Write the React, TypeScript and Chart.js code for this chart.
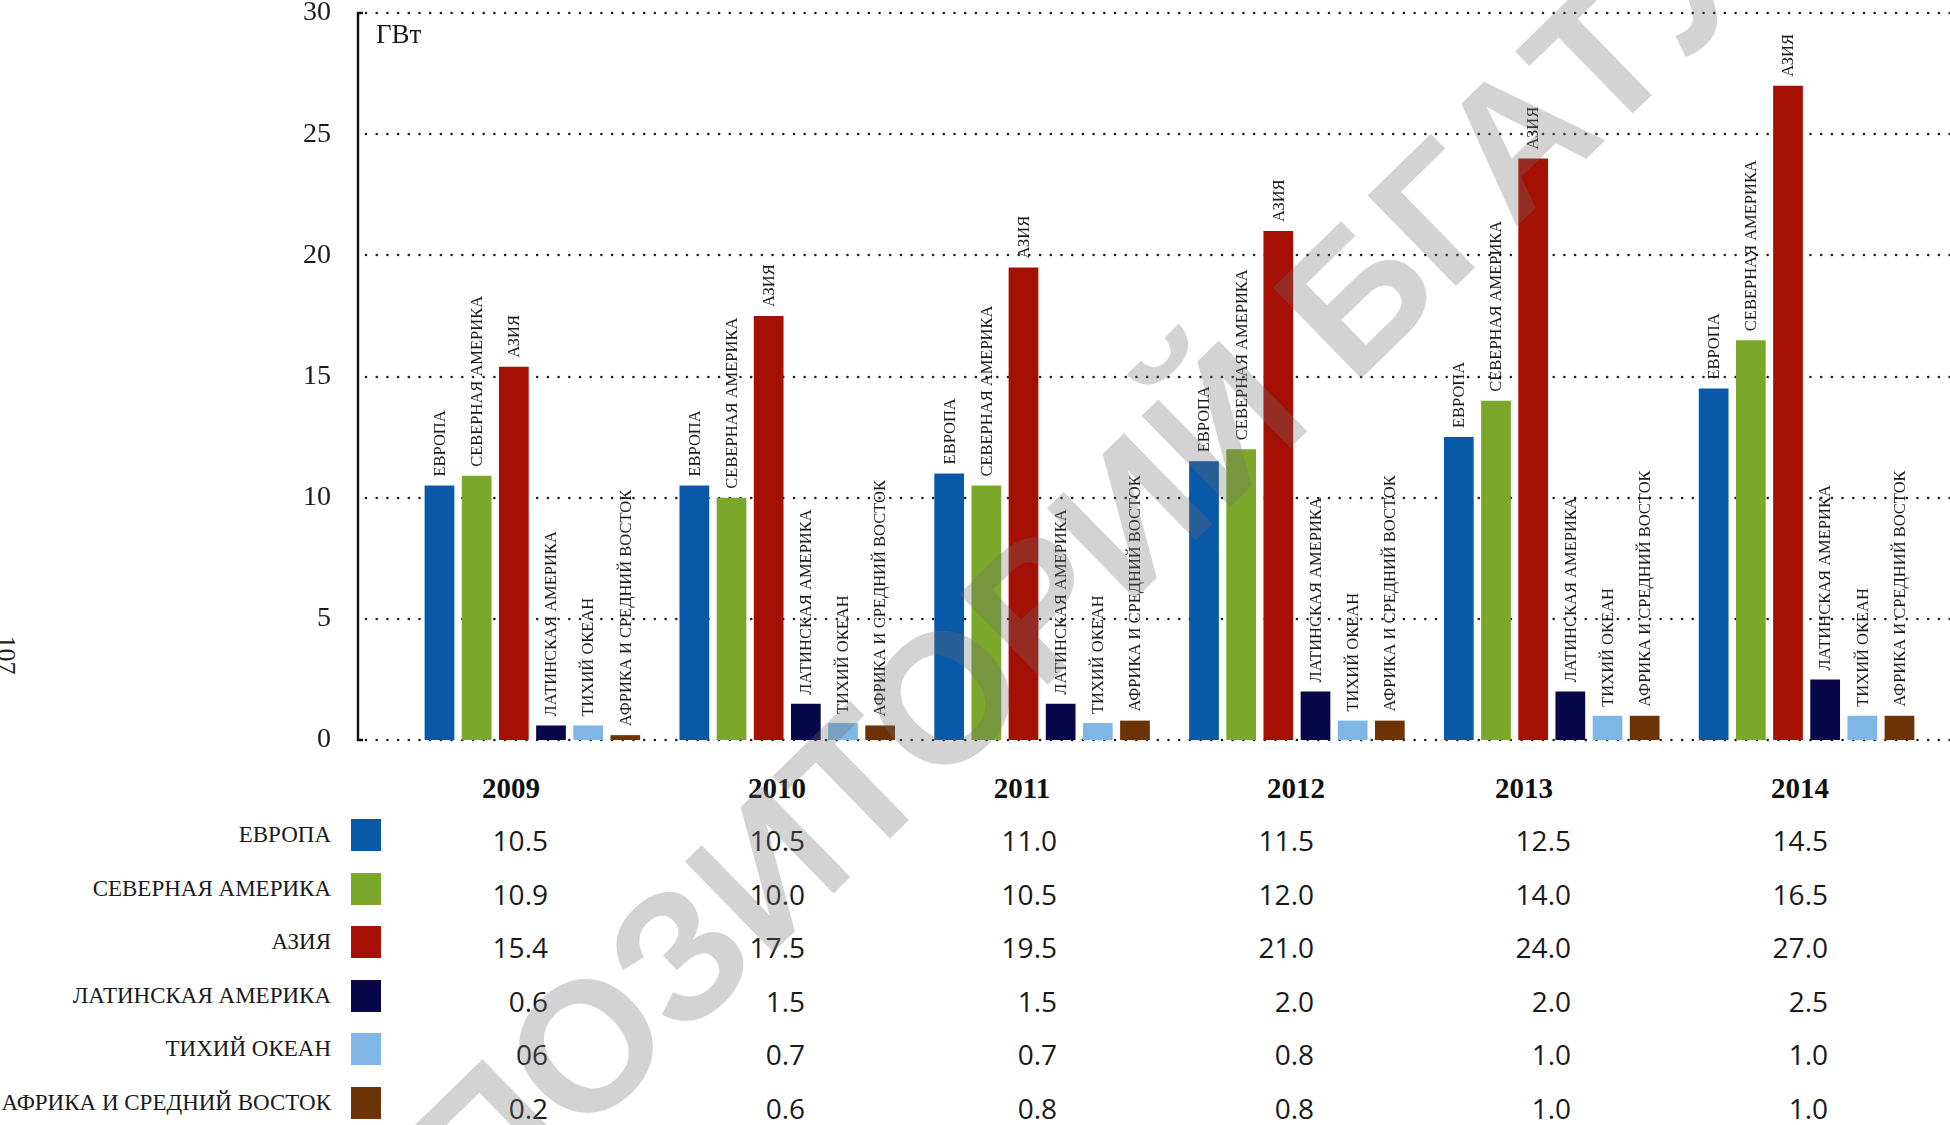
import React, { useEffect, useRef } from "react";
import { Chart, registerables } from "chart.js";

Chart.register(...registerables);

// ---------- data ----------
const years = ["2009", "2010", "2011", "2012", "2013", "2014"];
const seriesNames = [
  "ЕВРОПА",
  "СЕВЕРНАЯ АМЕРИКА",
  "АЗИЯ",
  "ЛАТИНСКАЯ АМЕРИКА",
  "ТИХИЙ ОКЕАН",
  "АФРИКА И СРЕДНИЙ ВОСТОК",
];
const seriesColors = ["#0a58a8", "#7ba82a", "#a51005", "#07074a", "#7fb6e6", "#6b3306"];
const europe = [10.5, 10.5, 11.0, 11.5, 12.5, 14.5];
const northAmerica = [10.9, 10.0, 10.5, 12.0, 14.0, 16.5];
const asia = [15.4, 17.5, 19.5, 21.0, 24.0, 27.0];
const latinAmerica = [0.6, 1.5, 1.5, 2.0, 2.0, 2.5];
const pacific = [0.6, 0.7, 0.7, 0.8, 1.0, 1.0];
const africaMiddleEast = [0.2, 0.6, 0.8, 0.8, 1.0, 1.0];
const seriesValues = [europe, northAmerica, asia, latinAmerica, pacific, africaMiddleEast];
const yTicks = [0, 5, 10, 15, 20, 25, 30];
const unitLabel = "ГВт";
const watermarkText = "РЕПОЗИТОРИЙ БГАТУ";
const pageNumber = "107";
// printed table text that differs from plain formatting ("series-year")
const tableTextOverrides: Record<string, string> = { "4-0": "06" };

// ---------- layout ----------
const W = 1950;
const H = 1125;
const yearCenterX = [511, 777, 1022, 1296, 1524, 1800];
const valueRightX = [548, 805, 1057, 1314, 1571, 1828];
const yearRowY = 788;
const valueRowY0 = 840;
const legendRowY0 = 835;
const rowStep = 53.5;

const overlayPlugin = {
  id: "overlay",
  beforeDatasetsDraw(chart: any) {
    const ctx = chart.ctx;
    const ys = chart.scales.y;
    const axisX = chart.chartArea.left - 47;
    ctx.save();
    // dotted grid lines
    ctx.strokeStyle = "#1e1e1e";
    ctx.lineWidth = 2.6;
    ctx.lineCap = "round";
    ctx.setLineDash([0, 10.7]);
    yTicks.forEach((v) => {
      const py = Math.round(ys.getPixelForValue(v));
      ctx.beginPath();
      ctx.moveTo(axisX + 8, py);
      ctx.lineTo(chart.width, py);
      ctx.stroke();
    });
    ctx.setLineDash([]);
    // vertical axis line with small stubs
    const top = ys.getPixelForValue(30);
    const bot = ys.getPixelForValue(0);
    ctx.lineCap = "butt";
    ctx.lineWidth = 2.4;
    ctx.strokeStyle = "#111";
    ctx.beginPath();
    ctx.moveTo(axisX + 5, top);
    ctx.lineTo(axisX, top);
    ctx.lineTo(axisX, bot);
    ctx.lineTo(axisX + 5, bot);
    ctx.stroke();
    // unit label
    ctx.fillStyle = "#1a1a1a";
    ctx.font = '27px "Liberation Serif"';
    ctx.textAlign = "left";
    ctx.textBaseline = "alphabetic";
    ctx.fillText(unitLabel, axisX + 18, top + 30);
    ctx.restore();
  },
  afterDatasetsDraw(chart: any) {
    const ctx = chart.ctx;
    ctx.save();
    ctx.fillStyle = "#1a1a1a";
    ctx.font = '16.5px "Liberation Serif"';
    ctx.textAlign = "left";
    ctx.textBaseline = "middle";
    chart.data.datasets.forEach((ds: any, di: number) => {
      const meta = chart.getDatasetMeta(di);
      meta.data.forEach((bar: any) => {
        ctx.save();
        ctx.translate(bar.x + 1, bar.y - 9);
        ctx.rotate(-Math.PI / 2);
        ctx.fillText(ds.label, 0, 0);
        ctx.restore();
      });
    });
    ctx.restore();
  },
  afterDraw(chart: any) {
    const ctx = chart.ctx;
    ctx.save();
    const size = 184;
    ctx.font = `bold ${size}px "Liberation Sans"`;
    ctx.fillStyle = "rgba(110,110,110,0.3)";
    ctx.translate(486, 1140);
    ctx.rotate((-44.3 * Math.PI) / 180);
    const pre = ctx.measureText("РЕ").width + ctx.measureText("П").width / 2;
    ctx.textAlign = "left";
    ctx.textBaseline = "alphabetic";
    ctx.fillText(watermarkText, -pre, 0.36 * size);
    ctx.restore();
  },
};

export default function App() {
  const canvasRef = useRef<HTMLCanvasElement | null>(null);

  useEffect(() => {
    document.body.style.margin = "0";
    const canvas = canvasRef.current;
    if (!canvas) return;
    const chart = new Chart(canvas, {
      type: "bar",
      data: {
        labels: years,
        datasets: seriesValues.map((vals, i) => ({
          label: seriesNames[i],
          data: vals,
          backgroundColor: seriesColors[i],
          borderWidth: 0,
          barPercentage: 0.8,
          categoryPercentage: 0.875,
        })),
      },
      options: {
        animation: false,
        responsive: false,
        maintainAspectRatio: false,
        devicePixelRatio: 1,
        layout: { padding: { top: 13, right: 16, bottom: 385, left: 0 } },
        plugins: { legend: { display: false }, tooltip: { enabled: false } },
        scales: {
          x: { display: false, offset: true, grid: { display: false } },
          y: {
            min: 0,
            max: 30,
            afterFit: (s: any) => {
              s.width = 405;
              s.paddingTop = 0;
              s.paddingBottom = 0;
            },
            afterBuildTicks: (s: any) => {
              s.ticks = yTicks.map((v) => ({ value: v }));
            },
            border: { display: false },
            grid: { display: false, drawTicks: false },
            ticks: {
              padding: 74,
              color: "#1a1a1a",
              font: { family: "Liberation Serif", size: 28, lineHeight: 0.9 },
            },
          },
        },
      },
      plugins: [overlayPlugin],
    } as any);
    return () => chart.destroy();
  }, []);

  return (
    <div
      style={{
        position: "fixed",
        left: 0,
        top: 0,
        width: W,
        height: H,
        background: "#ffffff",
        overflow: "hidden",
      }}
    >
      {/* page number */}
      <div
        style={{
          position: "absolute",
          left: -20,
          top: 640,
          width: 52,
          height: 30,
          lineHeight: "30px",
          textAlign: "center",
          transform: "rotate(90deg)",
          fontFamily: '"Liberation Serif"',
          fontSize: 26,
          color: "#222",
        }}
      >
        {pageNumber}
      </div>

      {/* legend */}
      {seriesNames.map((name, i) => {
        const cy = legendRowY0 + i * rowStep;
        return (
          <React.Fragment key={name}>
            <div
              style={{
                position: "absolute",
                left: 0,
                width: 331,
                top: cy - 16,
                height: 32,
                lineHeight: "32px",
                textAlign: "right",
                fontFamily: '"Liberation Serif"',
                fontSize: 23,
                color: "#1a1a1a",
                whiteSpace: "nowrap",
              }}
            >
              {name}
            </div>
            <div
              style={{
                position: "absolute",
                left: 351,
                width: 30,
                top: cy - 16,
                height: 32,
                background: seriesColors[i],
              }}
            />
          </React.Fragment>
        );
      })}

      {/* table */}
      {years.map((yr, j) => (
        <React.Fragment key={yr}>
          <div
            style={{
              position: "absolute",
              left: yearCenterX[j] - 60,
              width: 120,
              top: yearRowY - 17,
              height: 34,
              lineHeight: "34px",
              textAlign: "center",
              fontFamily: '"Liberation Serif"',
              fontWeight: "bold",
              fontSize: 29,
              color: "#111",
            }}
          >
            {yr}
          </div>
          {seriesValues.map((vals, i) => {
            const key = `${i}-${j}`;
            const txt = tableTextOverrides[key] ?? vals[j].toFixed(1);
            return (
              <div
                key={key}
                style={{
                  position: "absolute",
                  left: valueRightX[j] - 120,
                  width: 120,
                  top: valueRowY0 + i * rowStep - 17,
                  height: 34,
                  lineHeight: "34px",
                  textAlign: "right",
                  fontFamily: '"Open Sans"',
                  fontSize: 28,
                  color: "#1a1a1a",
                }}
              >
                {txt}
              </div>
            );
          })}
        </React.Fragment>
      ))}

      <canvas
        ref={canvasRef}
        width={W}
        height={H}
        style={{ position: "absolute", left: 0, top: 0, width: W, height: H, zIndex: 1 }}
      />
    </div>
  );
}
